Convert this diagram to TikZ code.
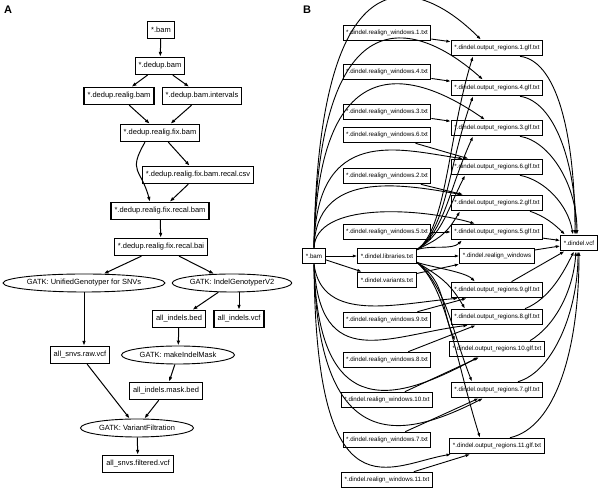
\documentclass[tikz,border=0pt]{standalone}
\usepackage{fontspec}
\setmainfont{Liberation Sans}
\usetikzlibrary{arrows.meta,shapes.geometric,positioning}

\tikzset{
  fileA/.style={draw, line width=1.3pt, minimum height=17pt, inner xsep=3.5pt, inner ysep=0pt, font=\fontsize{7.5}{9}\selectfont},
  toolA/.style={draw, ellipse, line width=0.9pt, minimum height=18pt, minimum width=113pt, inner sep=0pt, font=\fontsize{7.5}{9}\selectfont},
  fileB/.style={draw, line width=1.1pt, minimum height=15.5pt, inner xsep=3pt, inner ysep=0pt, font=\fontsize{6.2}{7.5}\selectfont},
  arr/.style={-{Latex[length=5pt,width=3.6pt]}, line width=1pt},
  arrB/.style={-{Latex[length=4.5pt,width=3.2pt]}, line width=0.9pt},
  panel/.style={font=\fontsize{11}{13}\selectfont\bfseries}
}

\begin{document}
\begin{tikzpicture}[x=1pt,y=1pt]
\useasboundingbox (0,0) rectangle (600,494);

% panel A
\node[panel] (labA) at (8,484) {A};
\node[fileA] (bam) at (161,464) {*.bam};
\node[fileA] (dedup) at (160,428) {*.dedup.bam};
\node[fileA] (realig) at (119,398) {*.dedup.realig.bam};
\node[fileA] (intervals) at (202,398) {*.dedup.bam.intervals};
\node[fileA] (fixbam) at (160,361) {*.dedup.realig.fix.bam};
\node[fileA] (csv) at (198,319) {*.dedup.realig.fix.bam.recal.csv};
\node[fileA] (recalbam) at (160,283) {*.dedup.realig.fix.recal.bam};
\node[fileA] (bai) at (161,247) {*.dedup.realig.fix.recal.bai};
\node[toolA] (ug) at (84,211) {GATK: UnifiedGenotyper for SNVs};
\node[toolA] (ig) at (232,211) {GATK: IndelGenotyperV2};
\node[fileA] (indelsbed) at (179,175) {all\_indels.bed};
\node[fileA] (indelsvcf) at (239,175) {all\_indels.vcf};
\node[fileA] (snvsraw) at (80,139) {all\_snvs.raw.vcf};
\node[toolA] (mask) at (178,139) {GATK: makeIndelMask};
\node[fileA] (maskbed) at (166,103) {all\_indels.mask.bed};
\node[toolA] (vf) at (137,66) {GATK: VariantFiltration};
\node[fileA] (filtered) at (138,30) {all\_snvs.filtered.vcf};

\draw[arr] (bam) -- (dedup);
\draw[arr] (dedup) -- (realig);
\draw[arr] (dedup) -- (intervals);
\draw[arr] (realig) -- (fixbam);
\draw[arr] (intervals) -- (fixbam);
\draw[arr] (fixbam) -- (csv);
\draw[arr] ([xshift=-15pt]fixbam.south) to[out=240,in=105,looseness=1.5] ([xshift=-10pt]recalbam.north);
\draw[arr] (csv) -- (recalbam);
\draw[arr] (recalbam) -- (bai);
\draw[arr] (bai) -- (ug);
\draw[arr] (bai) -- (ig);
\draw[arr] (ig) -- (indelsbed);
\draw[arr] (ig.south -| indelsvcf) -- (indelsvcf);
\draw[arr] (ug.south) -- (ug.south |- snvsraw.north);
\draw[arr] (indelsbed) -- (mask);
\draw[arr] (mask) -- (maskbed);
\draw[arr] (snvsraw) -- (vf);
\draw[arr] (maskbed) -- (vf);
\draw[arr] (vf) -- (filtered);

% panel B
\node[panel] (labB) at (307,484) {B};
\node[fileB] (bamB) at (314,238) {*.bam};
\node[fileB] (lib) at (387,238) {*.dindel.libraries.txt};
\node[fileB] (var) at (387,214) {*.dindel.variants.txt};
\node[fileB] (rwin) at (497,238) {*.dindel.realign\_windows};
\node[fileB] (vcf) at (579,251) {*.dindel.vcf};

\node[fileB] (rw1) at (387,461) {*.dindel.realign\_windows.1.txt};
\node[fileB] (rw4) at (387,422) {*.dindel.realign\_windows.4.txt};
\node[fileB] (rw3) at (387,382) {*.dindel.realign\_windows.3.txt};
\node[fileB] (rw6) at (387,359) {*.dindel.realign\_windows.6.txt};
\node[fileB] (rw2) at (387,318) {*.dindel.realign\_windows.2.txt};
\node[fileB] (rw5) at (387,262) {*.dindel.realign\_windows.5.txt};
\node[fileB] (rw9) at (387,174) {*.dindel.realign\_windows.9.txt};
\node[fileB] (rw8) at (387,134) {*.dindel.realign\_windows.8.txt};
\node[fileB] (rw10) at (387,94) {*.dindel.realign\_windows.10.txt};
\node[fileB] (rw7) at (387,54) {*.dindel.realign\_windows.7.txt};
\node[fileB] (rw11) at (387,14) {*.dindel.realign\_windows.11.txt};

\node[fileB] (or1) at (497,446) {*.dindel.output\_regions.1.glf.txt};
\node[fileB] (or4) at (497,406) {*.dindel.output\_regions.4.glf.txt};
\node[fileB] (or3) at (497,366) {*.dindel.output\_regions.3.glf.txt};
\node[fileB] (or6) at (497,327) {*.dindel.output\_regions.6.glf.txt};
\node[fileB] (or2) at (497,291) {*.dindel.output\_regions.2.glf.txt};
\node[fileB] (or5) at (497,262) {*.dindel.output\_regions.5.glf.txt};
\node[fileB] (or9) at (497,204) {*.dindel.output\_regions.9.glf.txt};
\node[fileB] (or8) at (497,177) {*.dindel.output\_regions.8.glf.txt};
\node[fileB] (or10) at (497,145) {*.dindel.output\_regions.10.glf.txt};
\node[fileB] (or7) at (497,104) {*.dindel.output\_regions.7.glf.txt};
\node[fileB] (or11) at (497,48) {*.dindel.output\_regions.11.glf.txt};

\draw[arrB] (bamB) -- (lib);
\draw[arrB] (bamB) -- (var);
\draw[arrB] (lib) -- (rwin);
\draw[arrB] (var) -- (rwin);
\draw[arrB] (rwin) -- (vcf);

\draw[arrB] (bamB.north) .. controls +(4,308) and +(-61,61) .. ([xshift=-16pt]or1.north);
\draw[arrB] (bamB.north) .. controls +(4,264) and +(-63,56) .. ([xshift=-14pt]or4.north);
\draw[arrB] (bamB.north) .. controls +(4,212) and +(-65,45) .. ([xshift=-12pt]or3.north);
\draw[arrB] (bamB.north) .. controls +(2,124) and +(-63,9) .. ([xshift=-34pt]or6.north);
\draw[arrB] (bamB.north) .. controls +(2,78) and +(-62,11) .. ([xshift=-35pt]or2.north);
\draw[arrB] (bamB.north) .. controls +(2,46) and +(-55,16) .. ([xshift=-22pt]or5.north);
\draw[arrB] (bamB.south) .. controls +(8,-60) and +(-60,-5) .. ([xshift=-39pt]or9.south);
\draw[arrB] (bamB.south) .. controls +(6,-110) and +(-80,-10) .. ([xshift=-29pt]or8.south);
\draw[arrB] (bamB.south) .. controls +(4,-164) and +(-78,-42) .. ([xshift=-19pt]or10.south);
\draw[arrB] (bamB.south) .. controls +(4,-201) and +(-73,-37) .. ([xshift=-14pt]or7.south);
\draw[arrB] (bamB.south) .. controls +(2,-259) and +(-61,-10) .. ([xshift=-46pt]or11.south);

\draw[arrB] ([yshift=-2pt]lib.north east) .. controls +(30,20) and +(-25,-80) .. ([xshift=-24pt]or1.south);
\draw[arrB] ([yshift=-2pt]lib.north east) .. controls +(30,20) and +(-25,-70) .. ([xshift=-24pt]or4.south);
\draw[arrB] ([yshift=-2pt]lib.north east) .. controls +(28,18) and +(-25,-55) .. ([xshift=-24pt]or3.south);
\draw[arrB] ([yshift=-2pt]lib.north east) .. controls +(25,15) and +(-20,-40) .. ([xshift=-32pt]or6.south);
\draw[arrB] ([yshift=-2pt]lib.north east) .. controls +(20,10) and +(-15,-25) .. ([xshift=-37pt]or2.south);
\draw[arrB] ([yshift=-2pt]lib.north east) .. controls +(15,5) and +(-10,-10) .. ([xshift=-35pt]or5.south);
\draw[arrB] ([yshift=2pt]lib.south east) .. controls +(15,-5) and +(-10,10) .. ([xshift=-22pt]or9.north);
\draw[arrB] ([yshift=2pt]lib.south east) .. controls +(25,-15) and +(-15,25) .. ([xshift=-32pt]or8.north);
\draw[arrB] ([yshift=2pt]lib.south east) .. controls +(30,-20) and +(-15,35) .. ([xshift=-42pt]or10.north);
\draw[arrB] ([yshift=2pt]lib.south east) .. controls +(30,-25) and +(-20,50) .. ([xshift=-25pt]or7.north);
\draw[arrB] ([yshift=2pt]lib.south east) .. controls +(30,-25) and +(-25,80) .. ([xshift=-17pt]or11.north);

\draw[arrB] (rw1) -- (or1);
\draw[arrB] (rw4) -- (or4);
\draw[arrB] (rw3) -- (or3);
\draw[arrB] (rw6) -- (or6);
\draw[arrB] (rw2) -- (or2);
\draw[arrB] (rw5) -- (or5);
\draw[arrB] (rw9) -- (or9);
\draw[arrB] (rw8) -- (or8);
\draw[arrB] (rw10) -- (or10);
\draw[arrB] (rw7) -- (or7);
\draw[arrB] (rw11) -- (or11);

\draw[arrB] ([xshift=23pt]or1.south) .. controls +(40,-5) and +(0,90) .. ([xshift=-4pt]vcf.north);
\draw[arrB] ([xshift=23pt]or4.south) .. controls +(35,-5) and +(0,70) .. ([xshift=-3pt]vcf.north);
\draw[arrB] ([xshift=23pt]or3.south) .. controls +(30,-5) and +(0,50) .. ([xshift=-2pt]vcf.north);
\draw[arrB] ([xshift=23pt]or6.south) .. controls +(25,-5) and +(-5,30) .. ([xshift=-6pt]vcf.north);
\draw[arrB] ([xshift=33pt]or2.south) .. controls +(15,-5) and +(-10,10) .. ([xshift=-14pt]vcf.north);
\draw[arrB] (or5) -- (vcf);
\draw[arrB] (or9) -- (vcf);
\draw[arrB] ([xshift=28pt]or8.north) .. controls +(25,10) and +(-10,-20) .. ([xshift=-5pt]vcf.south);
\draw[arrB] ([xshift=33pt]or10.north) .. controls +(25,15) and +(-3,-40) .. ([xshift=-3pt]vcf.south);
\draw[arrB] ([xshift=21pt]or7.north) .. controls +(35,10) and +(0,-60) .. ([xshift=-1pt]vcf.south);
\draw[arrB] ([xshift=13pt]or11.north) .. controls +(45,10) and +(0,-100) .. (vcf.south);
\end{tikzpicture}
\end{document}
